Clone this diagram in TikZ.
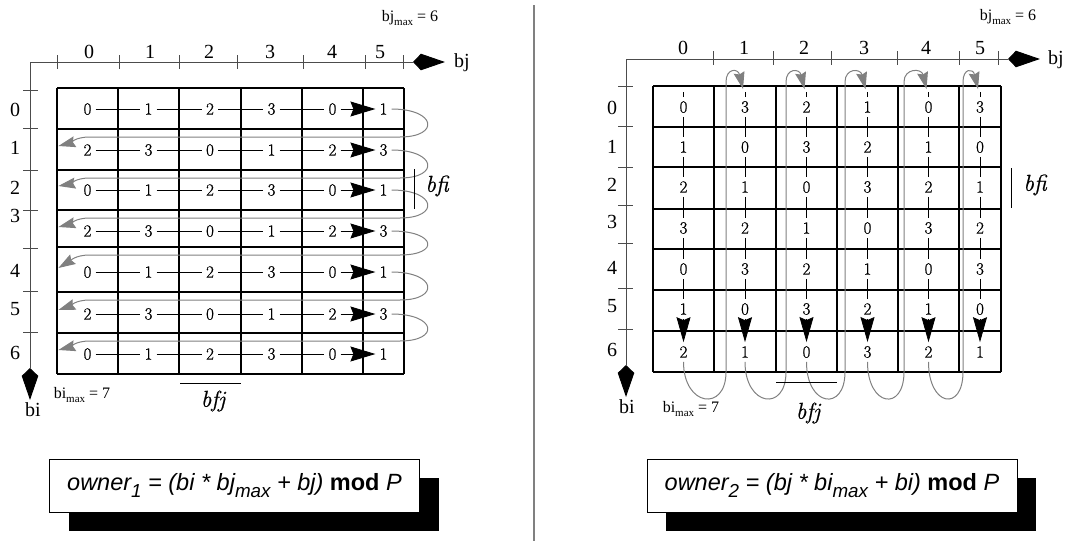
\documentclass[tikz,border=0pt]{standalone}
\usepackage{fontspec}
\usepackage{graphicx}
\newfontfamily\tms{Liberation Serif}
\newfontfamily\arial{Liberation Sans}
\newfontfamily\numfont{Latin Modern Roman}[FakeBold=0.8]
\usetikzlibrary{arrows.meta,calc,shadows}
\definecolor{loopgray}{gray}{0.5}
\definecolor{axisgray}{gray}{0.3}
\newcommand\lowsub[1]{\raisebox{-0.3em}{\scalebox{0.8}{#1}}}
\newcommand\tsub[1]{\raisebox{-0.25em}{\fontsize{11}{11}\selectfont #1}}
\begin{document}
\begin{tikzpicture}[x=1pt,y=-1pt,
  num/.style={font=\numfont\fontsize{17}{17}\selectfont, inner sep=4pt},
  axlab/.style={font=\tms\fontsize{20}{20}\selectfont, inner sep=0pt},
  small/.style={font=\tms\fontsize{16}{16}\selectfont, inner sep=0pt},
  gridline/.style={line width=1.2pt},
  axisline/.style={axisgray, line width=1pt},
  axtick/.style={axisgray, line width=1pt},
  link/.style={line width=0.8pt},
  hbig/.style={-{Stealth[length=25pt,width=15pt,inset=3pt]}},
  vbig/.style={-{Stealth[length=25pt,width=14pt,inset=3pt]}},
  grayloop/.style={loopgray, line width=1pt, -{Stealth[length=17pt,width=11pt,inset=2pt]}},
  axtip/.style={-{Stealth[length=24pt,width=16pt,inset=-8pt,color=black]}},
  bflab/.style={font=\numfont\fontsize{23}{23}\selectfont\itshape, inner sep=0pt},
  fbx/.style={draw=black, fill=white, line width=0.8pt, minimum width=370pt, minimum height=53pt,
    font=\arial\itshape\fontsize{23.5}{24}\selectfont,
    drop shadow={shadow xshift=19pt, shadow yshift=-19pt, fill=black, opacity=1}}
]
\useasboundingbox (0,0) rectangle (1066,541);

% divider
\draw[loopgray, line width=1.5pt] (534,5) -- (534,541);

%%%%%%%%%%%%%%%% LEFT PANEL %%%%%%%%%%%%%%%%
\coordinate (LO) at (30,62);
\coordinate (LX) at (445,62);
\coordinate (LY) at (30,400);
\draw[axisline, axtip] (LO) -- (LX);
\draw[axisline, axtip] (LO) -- (LY);
\foreach \x in {57,119,179,237,303,365,403} \draw[axtick] (\x,55) -- (\x,69);
\foreach \y in {90,128,170,210,248,291,332} \draw[axtick] (23,\y) -- (38,\y);
\foreach \t/\x in {0/89,1/150,2/209,3/270,4/332,5/380} \node[axlab] (Ltop\t) at (\x,52) {\t};
\foreach \t/\y in {0/110,1/148,2/188,3/216,4/271,5/309,6/353} \node[axlab] (Lside\t) at (15,\y) {\t};
\node[axlab] (Lbj) at (462,63) {bj};
\node[axlab] (Lbi) at (33,410) {bi};
\node[small] (Lbjmax) at (410,18) {bj\tsub{max} = 6};
\node[small] (Lbimax) at (82,395) {bi\tsub{max} = 7};

\foreach \x in {57,118,179,241,302,363,404} \draw[gridline] (\x,88) -- (\x,374);
\foreach \y in {88,129,170,210,247,292,333,374} \draw[gridline] (57,\y) -- (404,\y);

\foreach \r/\y in {0/109,1/150,2/190,3/231,4/272,5/314,6/354}
  \foreach \c/\x in {0/87.5,1/148.5,2/210,3/271.5,4/332.5,5/383.5} {
    \pgfmathtruncatemacro\v{mod(\r*6+\c,4)}
    \node[num] (L-\r-\c) at (\x,\y) {\v};
  }
\foreach \r in {0,...,6} {
  \foreach \c in {0,...,3} {
    \pgfmathtruncatemacro\n{\c+1}
    \draw[link] (L-\r-\c) -- (L-\r-\n);
  }
  \draw[link, hbig] (L-\r-4) -- (L-\r-5);
}
\foreach \r/\yy in {0/137,1/178,2/218,3/255,4/300,5/341} {
  \pgfmathtruncatemacro\n{\r+1}
  \draw[grayloop] (L-\r-5.east) .. controls +(45,0) and (440,\yy) .. (400,\yy)
     -- (90,\yy) .. controls (75,\yy) and (70,\yy+6) .. ($(L-\n-0.west)+(-21,-4)$);
}
\coordinate (Lbfi1) at (414,169);
\coordinate (Lbfi2) at (414,209);
\draw[line width=1pt] (Lbfi1) -- (Lbfi2);
\node[bflab] (Lbfi) at (437,186) {bfi};
\coordinate (Lbfj1) at (180,383);
\coordinate (Lbfj2) at (241,383);
\draw[line width=1pt] (Lbfj1) -- (Lbfj2);
\node[bflab] (Lbfj) at (213,401) {bfj};

\node[fbx] (F1) at (234.5,485.5) {owner\lowsub{1} = (bi * bj\lowsub{max} + bj) {\upshape\bfseries mod} P};

%%%%%%%%%%%%%%%% RIGHT PANEL %%%%%%%%%%%%%%%%
\coordinate (RO) at (626,59);
\coordinate (RX) at (1040,59);
\coordinate (RY) at (626,397);
\draw[axisline, axtip] (RO) -- (RX);
\draw[axisline, axtip] (RO) -- (RY);
\foreach \x in {713,773,831,897,959,998} \draw[axtick] (\x,51) -- (\x,65);
\foreach \y in {86,126,167,205,243,288,329} \draw[axtick] (618,\y) -- (633,\y);
\foreach \t/\x in {0/683,1/744,2/804,3/864,4/926,5/980} \node[axlab] (Rtop\t) at (\x,48) {\t};
\foreach \t/\y in {0/108,1/147,2/185,3/222,4/268,5/306,6/350} \node[axlab] (Rside\t) at (612,\y) {\t};
\node[axlab] (Rbj) at (1056,60) {bj};
\node[axlab] (Rbi) at (627,407) {bi};
\node[small] (Rbjmax) at (1008,17) {bj\tsub{max} = 6};
\node[small] (Rbimax) at (691,409) {bi\tsub{max} = 7};

\foreach \x in {653,714,776,837,898,959,1001} \draw[gridline] (\x,86) -- (\x,372);
\foreach \y in {86,127,167,209,249,290,331,372} \draw[gridline] (653,\y) -- (1001,\y);

\foreach \r/\y in {0/107,1/147,2/187,3/228,4/269,5/309,6/352}
  \foreach \c/\x in {0/683.5,1/745,2/806.5,3/867.5,4/928.5,5/980} {
    \pgfmathtruncatemacro\v{mod(\c*7+\r,4)}
    \node[num] (R-\r-\c) at (\x,\y) {\v};
  }
\foreach \c in {0,...,5} {
  \draw[link] (R-0-\c.north) -- +(0,-5);
  \foreach \r in {0,...,4} {
    \pgfmathtruncatemacro\n{\r+1}
    \draw[link] (R-\r-\c) -- (R-\n-\c);
  }
  \draw[link, vbig] (R-5-\c) -- (R-6-\c);
}
\foreach \c/\xg in {0/726,1/786,2/845,3/904,4/963} {
  \pgfmathtruncatemacro\n{\c+1}
  \draw[grayloop] (R-6-\c.south) .. controls +(0,45) and (\xg,412) .. (\xg,372)
     -- (\xg,82) .. controls (\xg,68) and ($(R-0-\n.north)+(-7,-29)$) .. ($(R-0-\n.north)+(-2,-8)$);
}
\coordinate (Rbfi1) at (1011,168);
\coordinate (Rbfi2) at (1011,208);
\draw[line width=1pt] (Rbfi1) -- (Rbfi2);
\node[bflab] (Rbfi) at (1035,185) {bfi};
\coordinate (Rbfj1) at (776,382);
\coordinate (Rbfj2) at (837,382);
\draw[line width=1pt] (Rbfj1) -- (Rbfj2);
\node[bflab] (Rbfj) at (808,413) {bfj};

\node[fbx] (F2) at (832,485.5) {owner\lowsub{2} = (bj * bi\lowsub{max} + bi) {\upshape\bfseries mod} P};
\end{tikzpicture}
\end{document}
